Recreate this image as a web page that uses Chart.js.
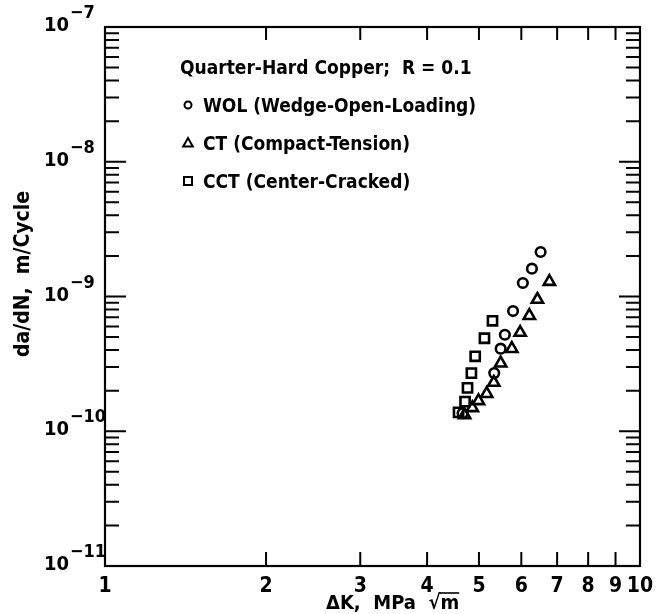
<!DOCTYPE html>
<html>
<head>
<meta charset="utf-8">
<script src="https://cdn.jsdelivr.net/npm/chart.js@4/dist/chart.umd.min.js"></script>
<style>
  html, body { margin: 0; padding: 0; background: #fff; }
</style>
</head>
<body>
<canvas id="myChart" width="664" height="614"></canvas>
<script>
const FONT = "'Liberation Sans Narrow', 'DejaVu Sans Condensed', sans-serif";

// data (delta K in MPa*sqrt(m), da/dN in m/cycle)
const wolDK   = [6.52, 6.28, 6.04, 5.79, 5.59, 5.49, 5.34, 4.66];
const wolRate = [2.14e-9, 1.61e-9, 1.26e-9, 7.8e-10, 5.2e-10, 4.1e-10, 2.7e-10, 1.36e-10];

const ctDK    = [6.77, 6.43, 6.21, 5.97, 5.76, 5.49, 5.33, 5.17, 4.99, 4.86, 4.70];
const ctRate  = [1.29e-9, 9.5e-10, 7.2e-10, 5.4e-10, 4.1e-10, 3.2e-10, 2.3e-10, 1.9e-10, 1.68e-10, 1.49e-10, 1.32e-10];

const cctDK   = [5.30, 5.12, 4.92, 4.84, 4.76, 4.71, 4.58];
const cctRate = [6.6e-10, 4.9e-10, 3.6e-10, 2.7e-10, 2.1e-10, 1.66e-10, 1.38e-10];

const seriesNames = ['WOL (Wedge-Open-Loading)', 'CT (Compact-Tension)', 'CCT (Center-Cracked)'];
const seriesStyles = ['circle', 'triangle', 'rect'];
const legendTitle = 'Quarter-Hard Copper;  R = 0.1';

const xTicks = [1, 2, 3, 4, 5, 6, 7, 8, 9, 10];
const yTicks = [1e-11, 1e-10, 1e-9, 1e-8, 1e-7];
const yExponents = ['\u221211', '\u221210', '\u22129', '\u22128', '\u22127'];

function toPoints(xs, ys) {
  return xs.map((x, i) => ({ x: x, y: ys[i] }));
}

function marker(ctx, style, x, y) {
  ctx.beginPath();
  if (style === 'circle') {
    ctx.arc(x, y, 3.5, 0, Math.PI * 2);
  } else if (style === 'triangle') {
    ctx.moveTo(x, y - 5);
    ctx.lineTo(x + 4.8, y + 3.5);
    ctx.lineTo(x - 4.8, y + 3.5);
    ctx.closePath();
  } else {
    ctx.rect(x - 4, y - 4, 8, 8);
  }
  ctx.stroke();
}

const framePlugin = {
  id: 'frame',
  afterDraw(chart) {
    const { ctx, chartArea: a, scales: { x, y } } = chart;
    ctx.save();
    ctx.strokeStyle = '#000';
    ctx.fillStyle = '#000';

    // box
    ctx.lineWidth = 2.2;
    ctx.strokeRect(a.left, a.top, a.right - a.left, a.bottom - a.top);

    // inward ticks, x
    ctx.lineWidth = 2;
    xTicks.slice(1, -1).forEach(v => {
      const px = x.getPixelForValue(v);
      ctx.beginPath();
      ctx.moveTo(px, a.bottom); ctx.lineTo(px, a.bottom - 14);
      ctx.moveTo(px, a.top); ctx.lineTo(px, a.top + 13);
      ctx.stroke();
    });

    // inward ticks, y (decades + minors)
    yTicks.slice(0, -1).forEach(d => {
      for (let m = 1; m <= 9; m++) {
        const py = y.getPixelForValue(d * m);
        const len = m === 1 ? 21 : 14;
        ctx.beginPath();
        ctx.moveTo(a.left, py); ctx.lineTo(a.left + len, py);
        ctx.moveTo(a.right, py); ctx.lineTo(a.right - len, py);
        ctx.stroke();
      }
    });

    // y tick labels 10^n
    yTicks.forEach((v, i) => {
      const py = y.getPixelForValue(v);
      ctx.font = 'bold 20px ' + FONT;
      ctx.textAlign = 'right';
      ctx.textBaseline = 'alphabetic';
      ctx.fillText('10', 69, py + 4);
      ctx.font = 'bold 18px ' + FONT;
      ctx.textAlign = 'left';
      ctx.fillText(yExponents[i], 70, py - 9);
    });

    // y title
    ctx.save();
    ctx.translate(29, 274);
    ctx.rotate(-Math.PI / 2);
    ctx.font = 'bold 21px ' + FONT;
    ctx.textAlign = 'center';
    ctx.textBaseline = 'alphabetic';
    ctx.fillText('da/dN,  m/Cycle', 0, 0);
    ctx.restore();

    // x title with radical
    ctx.font = 'bold 20px ' + FONT;
    ctx.textAlign = 'left';
    ctx.textBaseline = 'alphabetic';
    const part = '\u0394K,  MPa  ';
    let tx = 326;
    const ty = 609;
    ctx.fillText(part, tx, ty);
    tx += ctx.measureText(part).width;
    ctx.fillText('\u221A', tx, ty);
    tx += ctx.measureText('\u221A').width;
    ctx.fillText('m', tx, ty);
    const mw = ctx.measureText('m').width;
    ctx.lineWidth = 1.6;
    ctx.beginPath();
    ctx.moveTo(tx - 1, ty - 16);
    ctx.lineTo(tx + mw, ty - 16);
    ctx.stroke();

    // legend block inside the plot
    ctx.font = 'bold 19px ' + FONT;
    ctx.fillText(legendTitle, 180, 74);
    ctx.lineWidth = 2;
    seriesNames.forEach((name, i) => {
      const cy = 105 + i * 38;
      marker(ctx, seriesStyles[i], 188, cy);
      ctx.fillText(name, 203, cy + 7);
    });

    ctx.restore();
  }
};

const ctx = document.getElementById('myChart');

new Chart(ctx, {
  type: 'scatter',
  data: {
    datasets: [
      { label: seriesNames[0], data: toPoints(wolDK, wolRate), pointStyle: 'circle', pointRadius: 4.8 },
      { label: seriesNames[1], data: toPoints(ctDK, ctRate), pointStyle: 'triangle', pointRadius: 6.5 },
      { label: seriesNames[2], data: toPoints(cctDK, cctRate), pointStyle: 'rect', pointRadius: 6.5 }
    ].map(ds => Object.assign(ds, {
      borderColor: '#000',
      backgroundColor: 'rgba(255,255,255,0)',
      pointBorderColor: '#000',
      pointBackgroundColor: 'rgba(255,255,255,0)',
      pointBorderWidth: 2.6,
      pointHoverRadius: ds.pointRadius
    }))
  },
  options: {
    responsive: false,
    devicePixelRatio: 1,
    animation: false,
    layout: { padding: { top: 27, right: 24, left: 0, bottom: 0 } },
    plugins: {
      legend: { display: false },
      tooltip: { enabled: false }
    },
    scales: {
      x: {
        type: 'logarithmic',
        min: 1,
        max: 10,
        afterBuildTicks: s => { s.ticks = xTicks.map(v => ({ value: v })); },
        afterFit: s => { s.height = 48; },
        grid: { display: false },
        border: { display: false },
        ticks: {
          autoSkip: false,
          maxRotation: 0,
          padding: 0,
          color: '#000',
          font: { family: FONT, size: 21, weight: 'bold' },
          callback: v => String(v)
        }
      },
      y: {
        type: 'logarithmic',
        min: 1e-11,
        max: 1e-7,
        afterBuildTicks: s => { s.ticks = yTicks.map(v => ({ value: v })); },
        afterFit: s => { s.width = 105; },
        grid: { display: false },
        border: { display: false },
        ticks: { display: false }
      }
    }
  },
  plugins: [framePlugin]
});
</script>
</body>
</html>
